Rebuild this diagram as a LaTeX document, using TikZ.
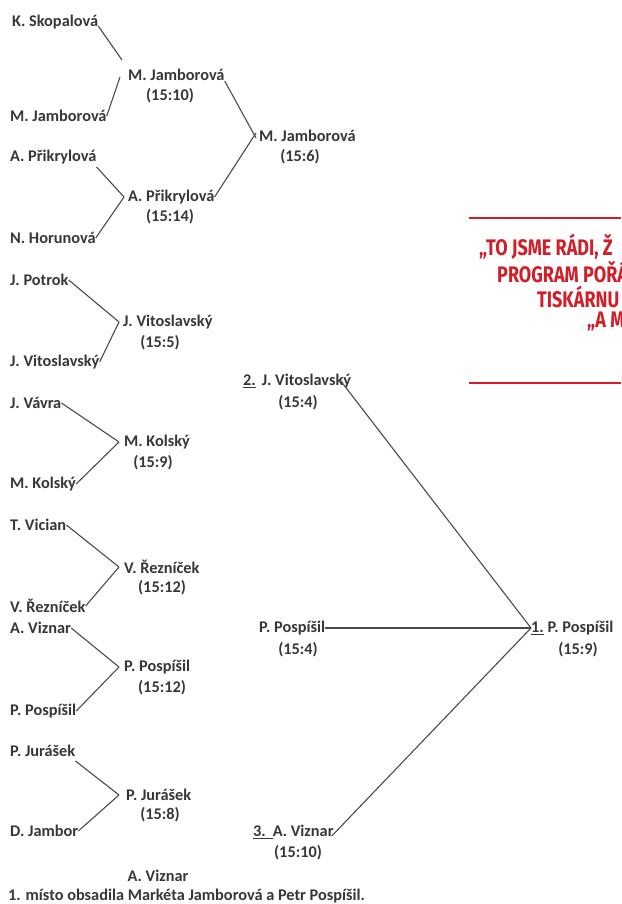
\documentclass[tikz,border=0pt]{standalone}
\usepackage{fontspec}
\setmainfont{Carlito}
\newfontfamily\redfont{Fira Sans}[FakeStretch=0.8]
\definecolor{lnc}{RGB}{75,75,75}
\definecolor{txc}{RGB}{55,55,55}
\definecolor{redc}{RGB}{210,30,40}
\tikzset{
  pl/.style={anchor=west,inner sep=0pt,text=txc,font=\bfseries\fontsize{16.3}{18}\selectfont},
  sc/.style={anchor=center,inner sep=0pt,text=txc,font=\bfseries\fontsize{16.3}{18}\selectfont},
  conn/.style={draw=lnc,line width=1.1pt},
  redtxt/.style={anchor=west,inner sep=0pt,text=redc,font=\redfont\bfseries\fontsize{22.5}{25}\selectfont},
  redline/.style={draw=redc,line width=2.6pt}
}
\begin{document}
\begin{tikzpicture}[x=1pt,y=-1pt]
\useasboundingbox (0,0) rectangle (621,904);
\fill[white] (0,0) rectangle (621,904);
\clip (0,0) rectangle (621,904);
% leaves
\node[pl] (l1) at (12,22) {K. Skopalová};
\node[pl] (l2) at (10,116) {M. Jamborová};
\node[pl] (l3) at (10,157) {A. Přikrylová};
\node[pl] (l4) at (10,238) {N. Horunová};
\node[pl] (l5) at (10,280) {J. Potrok};
\node[pl] (l6) at (10,362) {J. Vitoslavský};
\node[pl] (l7) at (10,403) {J. Vávra};
\node[pl] (l8) at (10,484) {M. Kolský};
\node[pl] (l9) at (10,525) {T. Vician};
\node[pl] (l10) at (10,606) {V. Řezníček};
\node[pl] (l11) at (10,628) {A. Viznar};
\node[pl] (l12) at (10,711) {P. Pospíšil};
\node[pl] (l13) at (10,751) {P. Jurášek};
\node[pl] (l14) at (10,831) {D. Jambor};
% round 1
\node[pl] (w1) at (128,75) {M. Jamborová};
\node[sc] (s1) at (170,96) {(15:10)};
\node[pl] (w2) at (128,197) {A. Přikrylová};
\node[sc] (s2) at (170,217) {(15:14)};
\node[pl] (w3) at (123,322) {J. Vitoslavský};
\node[sc] (s3) at (160,343) {(15:5)};
\node[pl] (w4) at (124,442) {M. Kolský};
\node[sc] (s4) at (153,463) {(15:9)};
\node[pl] (w5) at (124,567) {V. Řezníček};
\node[sc] (s5) at (162,588) {(15:12)};
\node[pl] (w6) at (124,667) {P. Pospíšil};
\node[sc] (s6) at (162,688) {(15:12)};
\node[pl] (w7) at (126,795) {P. Jurášek};
\node[sc] (s7) at (160,815) {(15:8)};
% round 2
\node[pl] (q1) at (259,136) {M. Jamborová};
\node[sc] (t1) at (300,157) {(15:6)};
% semifinal column
\node[pl] (f2) at (243,381) {\underline{2.}\hspace{6pt}J. Vitoslavský};
\node[sc] (g2) at (298,403) {(15:4)};
\node[pl] (f4) at (259,628) {P. Pospíšil};
\node[sc] (g4) at (298,650) {(15:4)};
\node[pl] (f3) at (253,832) {\underline{3.\hspace{7pt}}A. Viznar};
\node[sc] (g3) at (298,853) {(15:10)};
\node[pl] (f1) at (531,628) {\underline{1.} P. Pospíšil};
\node[sc] (g1) at (578,650) {(15:9)};
% bottom
\node[sc] (bv) at (158,876) {A. Viznar};
\node[pl] (fn) at (8,896) {1. místo obsadila Markéta Jamborová a Petr Pospíšil.};
% connectors round 1
\coordinate (j1a) at (122,60);
\coordinate (j1b) at (120,77);
\draw[conn] ([yshift=-4pt]l1.east) -- (j1a);
\draw[conn] (l2.east) -- (j1b);
\draw[conn] ([yshift=-10pt]l3.east) -- ([xshift=-4pt]w2.west);
\draw[conn] (l4.east) -- ([xshift=-4pt]w2.west);
\draw[conn] (l5.east) -- ([xshift=-4pt]w3.west);
\draw[conn] (l6.east) -- ([xshift=-4pt]w3.west);
\draw[conn] (l7.east) -- ([xshift=-5pt]w4.west);
\draw[conn] (l8.east) -- ([xshift=-5pt]w4.west);
\draw[conn] (l9.east) -- ([xshift=-5pt]w5.west);
\draw[conn] (l10.east) -- ([xshift=-5pt]w5.west);
\draw[conn] (l11.east) -- ([xshift=-5pt]w6.west);
\draw[conn] (l12.east) -- ([xshift=-5pt]w6.west);
\draw[conn] ([yshift=-10pt]l13.east) -- ([xshift=-7pt]w7.west);
\draw[conn] (l14.east) -- ([xshift=-7pt]w7.west);
% round 2
\draw[conn] ([yshift=-6pt]w1.east) -- ([xshift=-3pt,yshift=-2pt]q1.west);
\draw[conn] (w2.east) -- ([xshift=-3pt,yshift=3pt]q1.west);
% final
\draw[conn] ([xshift=-12pt,yshift=2pt]f2.east) -- (f1.west);
\draw[conn] (f4.east) -- (f1.west);
\draw[conn] ([xshift=-2pt,yshift=-4pt]f3.east) -- (f1.west);
% red box
\coordinate (ra) at (469,218);
\coordinate (rb) at (621,218);
\coordinate (rc) at (469,383);
\coordinate (rd) at (621,383);
\draw[redline] (ra) -- (rb);
\draw[redline] (rc) -- (rd);
\node[redtxt] (r1) at (479,247) {„TO JSME RÁDI, Ž};
\node[redtxt] (r2) at (497,272) {PROGRAM POŘÁ};
\node[redtxt] (r3) at (537,297) {TISKÁRNU};
\node[redtxt] (r4) at (587,322) {„A M};
\end{tikzpicture}
\end{document}
